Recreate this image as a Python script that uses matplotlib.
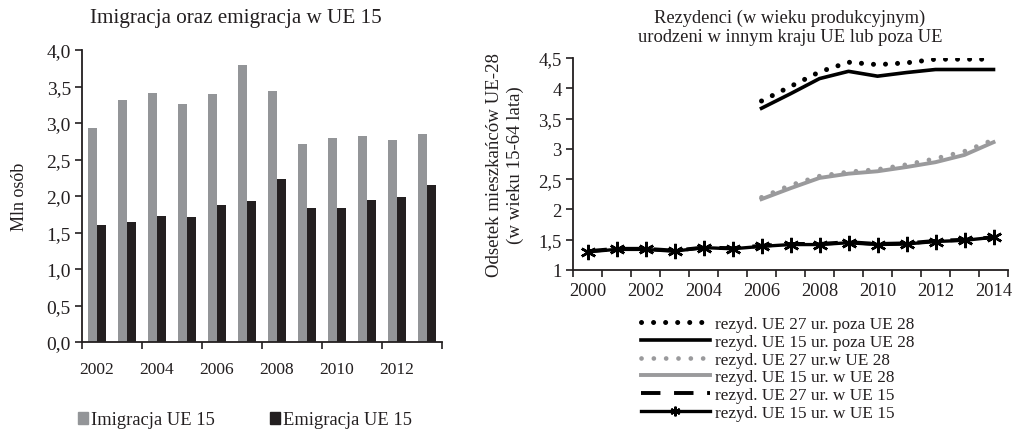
import matplotlib
matplotlib.use("Agg")
import matplotlib.pyplot as plt
import numpy as np
from matplotlib.lines import Line2D
from matplotlib.patches import Patch

plt.rcParams['font.family'] = ['Liberation Serif', 'DejaVu Serif']

# ---- left chart data ----
years_left = [2002, 2003, 2004, 2005, 2006, 2007, 2008, 2009, 2010, 2011, 2012, 2013]
imigracja = [2.93, 3.31, 3.41, 3.26, 3.40, 3.79, 3.44, 2.71, 2.79, 2.82, 2.77, 2.85]
emigracja = [1.60, 1.65, 1.73, 1.71, 1.88, 1.93, 2.23, 1.83, 1.83, 1.94, 1.99, 2.15]
left_yticks = [0.0, 0.5, 1.0, 1.5, 2.0, 2.5, 3.0, 3.5, 4.0]

# ---- right chart data ----
years_right = list(range(2000, 2015))
ue27_poza28 = [None]*6 + [3.79, 4.03, 4.27, 4.43, 4.39, 4.42, 4.48, 4.48, 4.48]
ue15_poza28 = [None]*6 + [3.67, 3.91, 4.16, 4.28, 4.20, 4.26, 4.31, 4.31, 4.31]
ue27_w28 = [None]*6 + [2.20, 2.40, 2.55, 2.62, 2.66, 2.74, 2.84, 2.96, 3.15]
ue15_w28 = [None]*6 + [2.17, 2.35, 2.52, 2.59, 2.63, 2.70, 2.78, 2.90, 3.11]
ue27_w15 = [1.31, 1.35, 1.35, 1.32, 1.37, 1.36, 1.40, 1.43, 1.43, 1.46, 1.43, 1.44, 1.48, 1.50, 1.54]
ue15_w15 = [1.30, 1.34, 1.34, 1.31, 1.37, 1.35, 1.39, 1.42, 1.42, 1.45, 1.42, 1.43, 1.47, 1.49, 1.54]
right_yticks = [1, 1.5, 2, 2.5, 3, 3.5, 4, 4.5]

GRAY_BAR = '#939598'
DARK_BAR = '#231f20'
GRAY_LINE = '#9a9a9c'
TXT = '#231f20'

W, H = 1014, 435
fig = plt.figure(figsize=(W/100, H/100), dpi=100)

def fmt(v):
    return ('%.1f' % v).replace('.', ',')

# ---------------- left ----------------
axL = fig.add_axes([82/W, 1-343/H, 360/W, 292/H])
x = np.arange(len(years_left))
bw = 0.3
axL.bar(x - bw/2, imigracja, bw, color=GRAY_BAR, label='Imigracja UE 15')
axL.bar(x + bw/2, emigracja, bw, color=DARK_BAR, label='Emigracja UE 15')
axL.set_xlim(-0.5, len(years_left) - 0.5)
axL.set_ylim(0, 4.0)
axL.set_yticks(left_yticks)
axL.set_yticklabels([fmt(v) for v in left_yticks])
axL.set_xticks(np.arange(-0.5, len(years_left), 2))
axL.set_xticklabels([])
axL.set_xticks(x[::2], minor=True)
axL.set_xticklabels([str(y) for y in years_left[::2]], minor=True)
axL.tick_params(axis='x', which='minor', length=0, pad=14, labelsize=12.5, colors=TXT)
axL.tick_params(axis='x', which='major', length=5, width=1.2, color=TXT)
axL.tick_params(axis='y', length=5, width=1.2, labelsize=14, colors=TXT, pad=3)
for s in ['top', 'right']:
    axL.spines[s].set_visible(False)
for s in ['left', 'bottom']:
    axL.spines[s].set_linewidth(1.3)
    axL.spines[s].set_color(TXT)
fig.text(236/W, 1-19/H, 'Imigracja oraz emigracja w UE 15', ha='center', va='center',
         fontsize=15.2, color=TXT)
fig.text(20/W, 1-197/H, 'Mln osób', rotation=90, ha='center', va='center',
         fontsize=13, color=TXT)
hL = [Patch(color=GRAY_BAR), Patch(color=DARK_BAR)]
fig.legend(hL, ['Imigracja UE 15', 'Emigracja UE 15'], loc='center left',
           bbox_to_anchor=(78/W, 1-421/H), ncol=2, frameon=False, fontsize=13.3,
           handlelength=0.55, handleheight=0.55, handletextpad=0.15, columnspacing=3.0,
           labelcolor=TXT, borderaxespad=0, borderpad=0)

# ---------------- right ----------------
axR = fig.add_axes([573/W, 1-271/H, 435/W, 212/H])
xr = np.arange(len(years_right))

def arr(v):
    return np.array([np.nan if a is None else a for a in v], dtype=float)

dot_black = dict(color='black', lw=3.6, linestyle=(0, (0.01, 2.4)), dash_capstyle='round')
dot_gray = dict(color=GRAY_LINE, lw=3.4, linestyle=(0, (0.01, 2.6)), dash_capstyle='round')
axR.plot(xr, arr(ue27_poza28), **dot_black)
axR.plot(xr, arr(ue15_poza28), color='black', lw=2.6)
axR.plot(xr, arr(ue27_w28), **dot_gray)
axR.plot(xr, arr(ue15_w28), color=GRAY_LINE, lw=2.8)
axR.plot(xr, arr(ue27_w15), color='black', lw=2.8, linestyle=(0, (5, 3.5)))
axR.plot(xr, arr(ue15_w15), color='black', lw=2.4, marker=(6, 2, 0), markersize=11,
         markeredgewidth=1.8)
axR.set_xlim(-0.5, len(years_right) - 0.5)
axR.set_ylim(1, 4.5)
axR.set_yticks(right_yticks)
axR.set_yticklabels([('%g' % v).replace('.', ',') for v in right_yticks])
axR.set_xticks(np.arange(-0.5, len(years_right), 1))
axR.set_xticklabels([])
axR.set_xticks(xr[::2], minor=True)
axR.set_xticklabels([str(y) for y in years_right[::2]], minor=True)
axR.tick_params(axis='x', which='minor', length=0, pad=9, labelsize=13.3, colors=TXT)
axR.tick_params(axis='x', which='major', length=5, width=1.2, color=TXT)
axR.tick_params(axis='y', length=5, width=1.2, labelsize=13.5, colors=TXT, pad=3)
for s in ['top', 'right']:
    axR.spines[s].set_visible(False)
for s in ['left', 'bottom']:
    axR.spines[s].set_linewidth(1.3)
    axR.spines[s].set_color(TXT)
fig.text(790/W, 1-28/H, 'Rezydenci (w wieku produkcyjnym)\nurodzeni w innym kraju UE lub poza UE',
         ha='center', va='center', fontsize=13.3, color=TXT, linespacing=1.15)
fig.text(505/W, 1-165/H, 'Odsetek mieszkańców UE-28\n(w wieku 15-64 lata)', rotation=90,
         ha='center', va='center', fontsize=13.6, color=TXT, linespacing=1.3)

hR = [Line2D([], [], **dot_black),
      Line2D([], [], color='black', lw=2.6),
      Line2D([], [], **dot_gray),
      Line2D([], [], color=GRAY_LINE, lw=2.8),
      Line2D([], [], color='black', lw=2.8, linestyle=(0, (5, 3.5))),
      Line2D([], [], color='black', lw=2.4, marker=(6, 2, 0), markersize=7, markeredgewidth=1.5,
             markevery=[1])]
labR = ['rezyd. UE 27 ur. poza UE 28', 'rezyd. UE 15 ur. poza UE 28',
        'rezyd. UE 27 ur.w UE 28', 'rezyd. UE 15 ur. w UE 28',
        'rezyd. UE 27 ur. w UE 15', 'rezyd. UE 15 ur. w UE 15']
fig.legend(hR, labR, loc='upper left', bbox_to_anchor=(641/W, 1-317/H), frameon=False,
           fontsize=12.4, handlelength=4.0, handletextpad=0.3, labelspacing=0.1,
           labelcolor=TXT, borderaxespad=0, borderpad=0)

fig.savefig('out.png', dpi=100)
